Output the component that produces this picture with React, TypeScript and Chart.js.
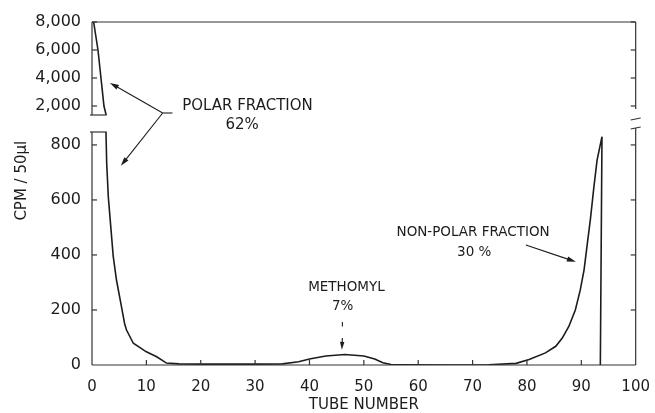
import React, { useEffect, useRef } from "react";
import { Chart, registerables } from "chart.js";

Chart.register(...registerables);

// ---- data ----
const polarTubes = [0.3, 1.1, 1.65, 2.2, 2.6];
const polarCpm = [8000, 6000, 4000, 2000, 1357];

const tubes = [
  2.57, 2.7, 3.0, 3.5, 3.9, 4.5, 5.3, 6.0, 6.35, 7.6, 10.0, 11.9, 13.7, 16, 20, 25, 30, 35, 38, 40, 43,
  46.5, 50, 52, 53.5, 55, 58, 65, 73, 78, 80.4, 83.4, 85.3, 86.5, 87.7, 88.9, 89.8, 90.5, 91.1, 91.7,
  92.3, 92.9, 93.8, 93.5,
];
const cpm = [
  847, 735, 611, 491, 396, 309, 225, 150, 127, 79, 48, 30, 7, 4, 3, 3, 3, 4, 12, 22, 33,
  38, 33, 22, 8, 2, 1, 0, 1, 6, 20, 44, 68, 98, 140, 200, 272, 345, 440, 535,
  645, 745, 830, 0,
];

const upperTicks = [2000, 4000, 6000, 8000];
const lowerTicks = [0, 200, 400, 600, 800];
const upperRange = [1357, 8000];
const lowerRange = [0, 847];
const tubeRange = [0, 100];

const FONT = "'DejaVu Sans', sans-serif";
const INK = "#1c1c1c";

function arrow(ctx: CanvasRenderingContext2D, x1: number, y1: number, x2: number, y2: number, head = 9, half = 2.6) {
  const a = Math.atan2(y2 - y1, x2 - x1);
  ctx.beginPath();
  ctx.moveTo(x1, y1);
  ctx.lineTo(x2 - Math.cos(a) * head * 0.6, y2 - Math.sin(a) * head * 0.6);
  ctx.stroke();
  ctx.beginPath();
  ctx.moveTo(x2, y2);
  ctx.lineTo(x2 - Math.cos(a) * head - Math.sin(a) * half, y2 - Math.sin(a) * head + Math.cos(a) * half);
  ctx.lineTo(x2 - Math.cos(a) * head + Math.sin(a) * half, y2 - Math.sin(a) * head - Math.cos(a) * half);
  ctx.closePath();
  ctx.fill();
}

const framePlugin = {
  id: "frame",
  afterDatasetsDraw(chart: any) {
    const ctx: CanvasRenderingContext2D = chart.ctx;
    const xs = chart.scales.x;
    const yu = chart.scales.yUpper;
    const yl = chart.scales.yLower;
    const L = xs.left;
    const R = xs.right;
    ctx.save();
    ctx.strokeStyle = "#333";
    ctx.fillStyle = INK;
    ctx.lineWidth = 1.2;
    const line = (a: number, b: number, c: number, d: number) => {
      ctx.beginPath();
      ctx.moveTo(a, b);
      ctx.lineTo(c, d);
      ctx.stroke();
    };
    // left axis segments
    line(L, yu.top, L, yu.bottom);
    line(L, yl.top, L, yl.bottom);
    // top and bottom
    line(L, yu.top, R, yu.top);
    line(L, yl.bottom, R, yl.bottom);
    // right axis with break
    line(R, yu.top, R, yu.bottom - 6);
    line(R, yl.top - 4, R, yl.bottom);
    line(R - 5, yu.bottom + 5, R + 5, yu.bottom + 3);
    line(R - 5, yl.top - 3, R + 5, yl.top - 5);
    // break caps on the left
    const capR = xs.getPixelForValue(2.7);
    line(L - 2, yu.bottom, capR, yu.bottom);
    line(L - 2, yl.top, capR, yl.top);
    // inward ticks
    for (const v of upperTicks) {
      const p = yu.getPixelForValue(v);
      line(L, p, L + 5, p);
      line(R, p, R - 5, p);
    }
    for (const v of lowerTicks) {
      if (v === 0) continue;
      const p = yl.getPixelForValue(v);
      line(L, p, L + 5, p);
      line(R, p, R - 5, p);
    }
    for (let t = tubeRange[0] + 10; t < tubeRange[1]; t += 10) {
      const p = xs.getPixelForValue(t);
      line(p, yl.bottom, p, yl.bottom - 5);
    }

    // ---- annotations ----
    ctx.strokeStyle = INK;
    ctx.lineWidth = 1.1;
    ctx.fillStyle = INK;
    ctx.textAlign = "center";
    ctx.textBaseline = "middle";

    // polar fraction
    ctx.font = `15px ${FONT}`;
    const pfx = xs.getPixelForValue(28.6);
    const pfy = yu.getPixelForValue(2000);
    ctx.fillText("POLAR FRACTION", pfx, pfy);
    ctx.fillText("62%", xs.getPixelForValue(27.6), pfy + 19);
    const jx = xs.getPixelForValue(13.0);
    const jy = yu.getPixelForValue(1500);
    line(xs.getPixelForValue(14.8), jy, jx, jy);
    arrow(ctx, jx, jy, xs.getPixelForValue(3.3), yu.getPixelForValue(3650));
    arrow(ctx, jx, jy, xs.getPixelForValue(5.3), yl.getPixelForValue(724));

    // non-polar fraction
    ctx.font = `13.5px ${FONT}`;
    const nx = xs.getPixelForValue(70.1);
    const ny = yl.getPixelForValue(480);
    ctx.fillText("NON-POLAR FRACTION", nx, ny);
    ctx.fillText("30 %", xs.getPixelForValue(70.3), ny + 20);
    arrow(ctx, xs.getPixelForValue(79.8), yl.getPixelForValue(436), xs.getPixelForValue(89.0), yl.getPixelForValue(375));

    // methomyl
    ctx.font = `13.5px ${FONT}`;
    const mx = xs.getPixelForValue(46.8);
    const my = yl.getPixelForValue(280);
    ctx.fillText("METHOMYL", mx, my);
    ctx.fillText("7%", xs.getPixelForValue(46.1), my + 19);
    const ax = xs.getPixelForValue(46.05);
    line(ax, yl.getPixelForValue(156), ax, yl.getPixelForValue(140));
    arrow(ctx, ax, yl.getPixelForValue(98), ax - 0.5, yl.getPixelForValue(55), 8, 2.2);

    // axis titles
    ctx.font = `15px ${FONT}`;
    ctx.fillText("TUBE NUMBER", xs.getPixelForValue(50), 405);
    ctx.save();
    ctx.translate(L - 70, yl.getPixelForValue(670));
    ctx.rotate(-Math.PI / 2);
    ctx.fillText("CPM / 50\u00b5l", 0, 0);
    ctx.restore();

    ctx.restore();
  },
};

export default function App() {
  const ref = useRef<HTMLCanvasElement | null>(null);
  useEffect(() => {
    if (!ref.current) return;
    const chart = new Chart(ref.current, {
      type: "line",
      data: {
        datasets: [
          {
            label: "polar",
            data: polarTubes.map((t, i) => ({ x: t, y: polarCpm[i] })),
            xAxisID: "x",
            yAxisID: "yUpper",
            borderColor: INK,
            borderWidth: 1.6,
            pointRadius: 0,
            tension: 0,
            fill: false,
          },
          {
            label: "cpm",
            data: tubes.map((t, i) => ({ x: t, y: cpm[i] })),
            xAxisID: "x",
            yAxisID: "yLower",
            borderColor: INK,
            borderWidth: 1.6,
            pointRadius: 0,
            tension: 0,
            fill: false,
          },
        ],
      },
      options: {
        responsive: false,
        animation: false,
        devicePixelRatio: 1,
        layout: { padding: { left: 0, top: 22, right: 18, bottom: 0 } },
        plugins: { legend: { display: false }, tooltip: { enabled: false }, title: { display: false } },
        scales: {
          x: {
            type: "linear",
            position: "bottom",
            min: tubeRange[0],
            max: tubeRange[1],
            grid: { display: false },
            border: { display: false },
            ticks: { stepSize: 10, color: INK, font: { family: FONT, size: 15 }, padding: 5, maxRotation: 0, autoSkip: false },
            afterFit: (s: any) => {
              s.height = 48;
            },
          },
          yLower: {
            type: "linear",
            position: "left",
            stack: "y",
            stackWeight: 233,
            weight: 1,
            min: lowerRange[0],
            max: lowerRange[1],
            grid: { display: false },
            border: { display: false },
            afterBuildTicks: (s: any) => {
              s.ticks = lowerTicks.map((v) => ({ value: v }));
            },
            ticks: {
              color: INK,
              font: { family: FONT, size: 16 },
              padding: 3,
              autoSkip: false,
              callback: (v: any) => Number(v).toLocaleString("en-US"),
            },
            afterFit: (s: any) => {
              s.width = 92;
            },
          },
          yGap: {
            type: "linear",
            position: "left",
            stack: "y",
            stackWeight: 17,
            weight: 2,
            grid: { display: false },
            border: { display: false },
            ticks: { display: false },
            afterFit: (s: any) => {
              s.width = 92;
            },
          },
          yUpper: {
            type: "linear",
            position: "left",
            stack: "y",
            stackWeight: 93,
            weight: 3,
            min: upperRange[0],
            max: upperRange[1],
            grid: { display: false },
            border: { display: false },
            afterBuildTicks: (s: any) => {
              s.ticks = upperTicks.map((v) => ({ value: v }));
            },
            ticks: {
              color: INK,
              font: { family: FONT, size: 16 },
              padding: 3,
              autoSkip: false,
              callback: (v: any) => Number(v).toLocaleString("en-US"),
            },
            afterFit: (s: any) => {
              s.width = 92;
            },
          },
        },
      },
      plugins: [framePlugin],
    } as any);
    return () => chart.destroy();
  }, []);
  return (
    <div style={{ position: "fixed", left: 0, top: 0, width: 655, height: 413, background: "#fff" }}>
      <canvas ref={ref} width={655} height={413} style={{ display: "block" }} />
    </div>
  );
}
